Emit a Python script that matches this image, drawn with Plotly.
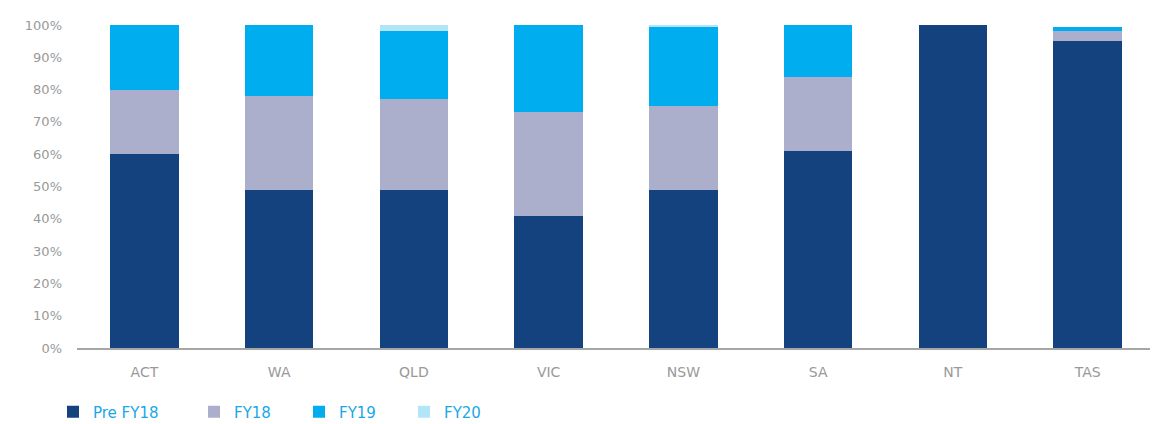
import plotly.graph_objects as go

states = ["ACT", "WA", "QLD", "VIC", "NSW", "SA", "NT", "TAS"]
pre_fy18 = [60, 49, 49, 41, 49, 61, 100, 95]
fy18 = [20, 29, 28, 32, 26, 23, 0, 3]
fy19 = [20, 22, 21, 27, 24.5, 16, 0, 1.3]
fy20 = [0, 0, 2, 0, 0.5, 0, 0, 0]
tick_vals = [0, 10, 20, 30, 40, 50, 60, 70, 80, 90, 100]
tick_text = [f"{v}%" for v in tick_vals]

series = [
    ("Pre FY18", pre_fy18, "#14427F", "legend"),
    ("FY18", fy18, "#ABAFCC", "legend2"),
    ("FY19", fy19, "#00AEEF", "legend2"),
    ("FY20", fy20, "#B3E5F8", "legend2"),
]

fig = go.Figure()
for name, vals, color, leg in series:
    fig.add_trace(go.Bar(
        x=states, y=vals, name=name, legend=leg,
        marker=dict(color=color, line=dict(width=0)),
    ))

W, H = 1150, 416
legend_common = dict(
    orientation="h",
    xref="container", yref="container",
    xanchor="left",
    y=12 / H, yanchor="middle",
    font=dict(size=15, color="#1AA7E8"),
    traceorder="normal",
    bgcolor="rgba(0,0,0,0)",
)

fig.update_layout(
    barmode="stack",
    bargap=0.49,
    width=W, height=H,
    margin=dict(l=69, r=3, t=16, b=76, autoexpand=False),
    plot_bgcolor="white",
    paper_bgcolor="white",
    font=dict(family="DejaVu Sans, sans-serif", color="#999999", size=13),
    showlegend=True,
    legend=dict(x=45 / W, **legend_common),
    legend2=dict(x=186 / W, entrywidth=60, entrywidthmode="pixels", **legend_common),
    xaxis=dict(
        automargin=False,
        showgrid=False,
        showline=True, linecolor="#A6A6A6", linewidth=2,
        ticks="", ticklabelstandoff=10,
        tickfont=dict(size=14, color="#999999"),
    ),
    yaxis=dict(
        automargin=False,
        range=[0, 100.3],
        showgrid=False, zeroline=False, showline=False,
        tickvals=tick_vals, ticktext=tick_text,
        ticks="", ticklabelstandoff=14,
        tickfont=dict(size=13, color="#999999"),
    ),
)

fig.write_html("out.html")
